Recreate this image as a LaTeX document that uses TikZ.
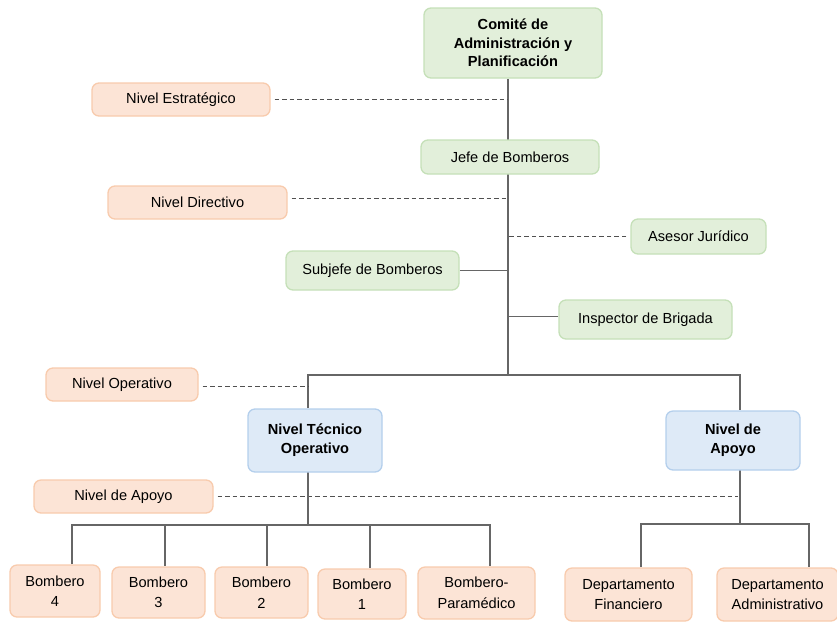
\documentclass[tikz,border=0pt]{standalone}
\usepackage{fontspec}
\setmainfont{Liberation Sans}
\usetikzlibrary{backgrounds}
\definecolor{gfill}{HTML}{E2EFDA}
\definecolor{gdraw}{HTML}{C5E0B8}
\definecolor{ofill}{HTML}{FCE4D6}
\definecolor{odraw}{HTML}{F8CBAD}
\definecolor{bfill}{HTML}{DEEAF7}
\definecolor{bdraw}{HTML}{B4CFEC}
\definecolor{lcol}{HTML}{666666}
\definecolor{dcol}{HTML}{505050}
\begin{document}
\begin{tikzpicture}[x=1pt,y=-1pt,
  box/.style={rounded corners=7pt, line width=1.3pt, align=center, inner sep=0pt,
     font=\fontsize{14.6}{20.5}\selectfont},
  gbox/.style={box, fill=gfill, draw=gdraw},
  obox/.style={box, fill=ofill, draw=odraw},
  bbox/.style={box, fill=bfill, draw=bdraw, font=\fontsize{14.6}{19}\selectfont\bfseries},
  conn/.style={draw=lcol, line width=1.3pt},
  dline/.style={draw=dcol, line width=1.2pt, dash pattern=on 4.5pt off 3pt, shorten <=4pt}]
\useasboundingbox (0,0) rectangle (837,622);
% nodes
\node[gbox, minimum width=178, minimum height=70, font=\fontsize{14.6}{18.5}\selectfont\bfseries] (com) at (513,43) {Comité de\\Administración y\\Planificación};
\node[obox, minimum width=178, minimum height=33] (est) at (181,99.5) {Nivel Estratégico};
\node[gbox, minimum width=178, minimum height=34] (jef) at (510,157) {Jefe de Bomberos};
\node[obox, minimum width=179, minimum height=33] (dir) at (197.5,202.5) {Nivel Directivo};
\node[gbox, minimum width=135, minimum height=35] (ase) at (698.5,236.5) {Asesor Jurídico};
\node[gbox, minimum width=173, minimum height=39] (sub) at (372.5,270.5) {Subjefe de Bomberos};
\node[gbox, minimum width=173, minimum height=39] (ins) at (645.5,319.5) {Inspector de Brigada};
\node[obox, minimum width=152, minimum height=33] (ope) at (122,384.5) {Nivel Operativo};
\node[bbox, minimum width=134, minimum height=63] (tec) at (315,440.5) {Nivel Técnico\\Operativo};
\node[bbox, minimum width=134, minimum height=59] (apo) at (733,440.5) {Nivel de\\Apoyo};
\node[obox, minimum width=179, minimum height=33] (apl) at (123.5,496.5) {Nivel de Apoyo};
\node[obox, minimum width=90, minimum height=52] (b4) at (55,591) {Bombero\\4};
\node[obox, minimum width=93, minimum height=51] (b3) at (158.5,592.5) {Bombero\\3};
\node[obox, minimum width=93, minimum height=51] (b2) at (261.5,592.5) {Bombero\\2};
\node[obox, minimum width=88, minimum height=50] (b1) at (362,594) {Bombero\\1};
\node[obox, minimum width=117, minimum height=52] (bp) at (476.5,593) {Bombero-\\Paramédico};
\node[obox, minimum width=127, minimum height=53] (df) at (628.5,594.5) {Departamento\\Financiero};
\node[obox, minimum width=121, minimum height=53] (da) at (777.5,594.5) {Departamento\\Administrativo};
% coordinates
\coordinate (tb) at (508,375);
\coordinate (jl) at (308,375);
\coordinate (jr) at (740,375);
\coordinate (bl) at (308,525);
\coordinate (v4) at (72,525);
\coordinate (v3) at (165,525);
\coordinate (v2) at (267,525);
\coordinate (v1) at (370,525);
\coordinate (vp) at (490,525);
\coordinate (br) at (740,524);
\coordinate (vf) at (641,524);
\coordinate (va) at (809,524);
\begin{scope}[on background layer]
\draw[conn] (com.south -| tb) -- (tb);
\draw[conn] (tec.north -| jl) -- (jl) -- (jr) -- (apo.north -| jr);
\draw[conn] (sub.east) -- (sub.east -| tb);
\draw[conn] ([yshift=3pt]ins.west) -- ([yshift=3pt]ins.west -| tb);
\draw[dline] (est.east) -- (est.east -| tb);
\draw[dline] ([yshift=4pt]dir.east) -- ([yshift=4pt]dir.east -| tb);
\draw[dline] (ase.west) -- (ase.west -| tb);
\draw[dline] ([yshift=-2pt]ope.east) -- ([yshift=-2pt]ope.east -| jl);
\draw[dline] (apl.east) -- ([xshift=-2pt]apl.east -| jr);
\draw[conn] ([yshift=3pt]tec.south -| bl) -- (bl);
\draw[conn] (v4 |- b4.north) -- (v4) -- (vp) -- (vp |- bp.north);
\draw[conn] (v3) -- (v3 |- b3.north);
\draw[conn] (v2) -- (v2 |- b2.north);
\draw[conn] (v1) -- (v1 |- b1.north);
\draw[conn] ([yshift=4pt]apo.south -| br) -- (br);
\draw[conn] (vf |- df.north) -- (vf) -- (va) -- (va |- da.north);
\end{scope}
\end{tikzpicture}
\end{document}
